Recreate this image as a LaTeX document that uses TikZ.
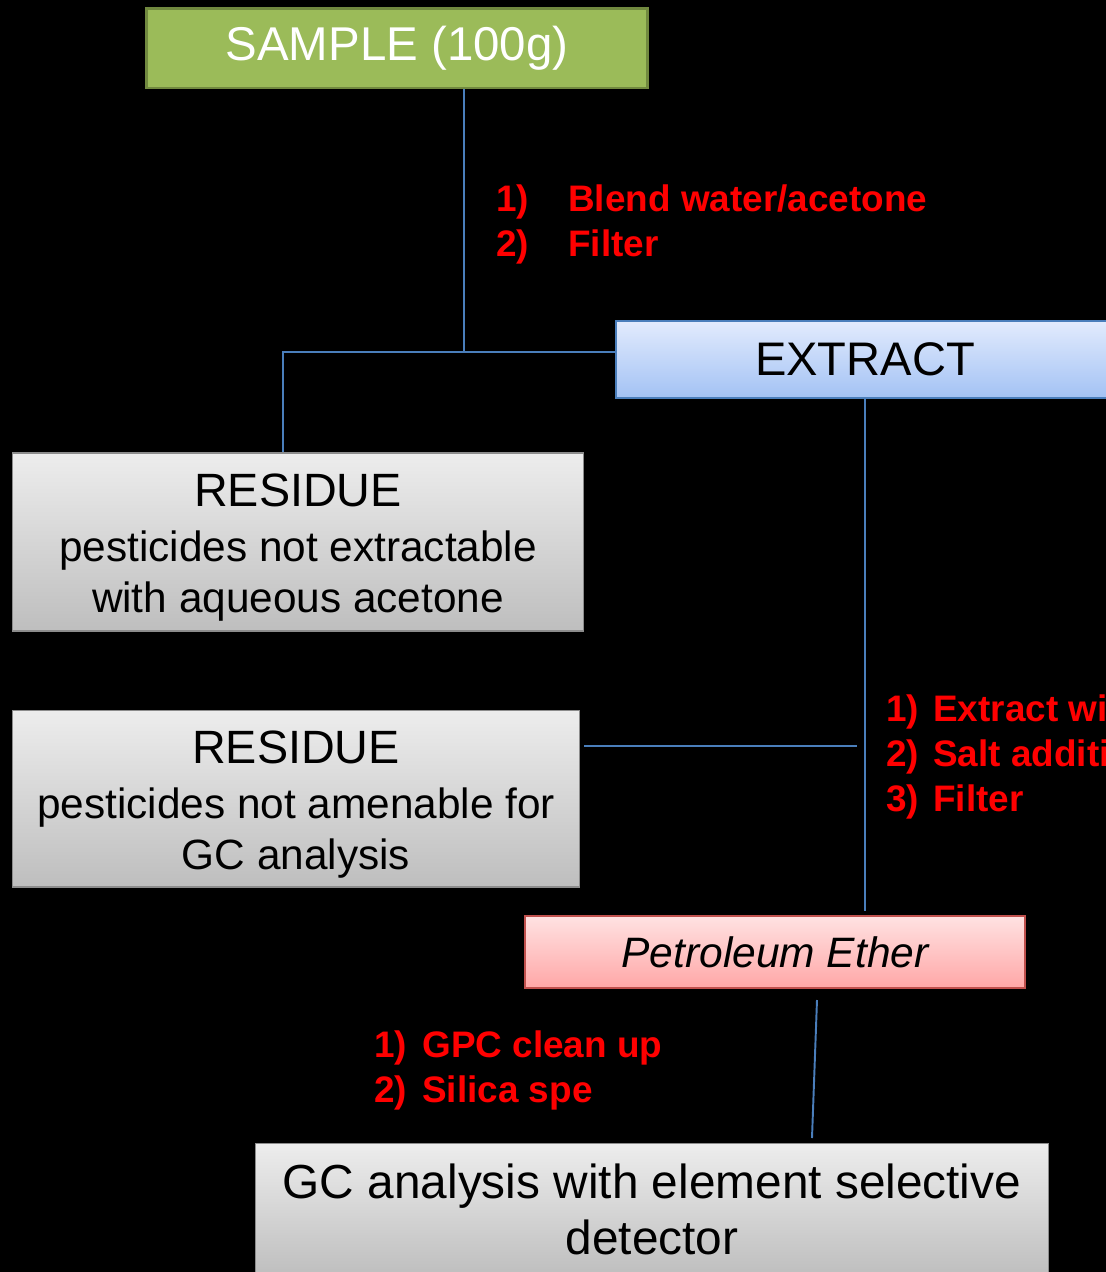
\documentclass[tikz,border=0pt]{standalone}
\usepackage{fontspec}
\setmainfont{Liberation Sans}
\begin{document}
\begin{tikzpicture}[x=0.02cm, y=-0.02cm,
  link/.style={draw=linkblue, line width=1.1pt},
  greenbox/.style={draw=greenedge, fill=greenfill, line width=1.7pt, text=white,
    font=\fontsize{27}{30}\selectfont},
  bluebox/.style={draw=linkblue, line width=1.3pt, top color=blueTop, bottom color=blueBot,
    font=\fontsize{26.8}{30}\selectfont},
  redbox/.style={draw=rededge, line width=1.3pt, top color=pinkTop, bottom color=pinkBot,
    font=\fontsize{24.2}{30}\selectfont\itshape},
  greybox/.style={draw=greyedge, line width=0.6pt, top color=greyTop, bottom color=greyBot,
    align=center, inner sep=0pt, font=\fontsize{24.1}{29}\selectfont},
  boxtext/.style={align=center, inner sep=0pt, font=\fontsize{24.1}{29}\selectfont},
  steptext/.style={anchor=base west, text=stepred, inner sep=0pt,
    font=\fontsize{21}{25}\selectfont\bfseries},
]
\definecolor{linkblue}{HTML}{4A7EBB}
\definecolor{greenedge}{HTML}{71893F}
\definecolor{greenfill}{HTML}{9BBB59}
\definecolor{blueTop}{HTML}{E2EBFD}
\definecolor{blueBot}{HTML}{A3C2F4}
\definecolor{rededge}{HTML}{C0504D}
\definecolor{pinkTop}{HTML}{FFE2E2}
\definecolor{pinkBot}{HTML}{FFA7A7}
\definecolor{greyedge}{HTML}{8C8C8C}
\definecolor{greyTop}{HTML}{EDEDED}
\definecolor{greyBot}{HTML}{BEBEBE}
\definecolor{stepred}{HTML}{FF0000}

\useasboundingbox (0,0) rectangle (1106,1272);
\fill[black] (0,0) rectangle (1106,1272);
\clip (0,0) rectangle (1106,1272);

% boxes
\node[greenbox, minimum width=10.04cm, minimum height=1.6cm] (sample) at (397,48) {SAMPLE (100g)};
\node[bluebox, minimum width=9.96cm, minimum height=1.54cm] (extract) at (865,359.5) {EXTRACT};
\node[greybox, minimum width=11.44cm, minimum height=3.56cm] (res1) at (298,542) {};
\node[boxtext] (res1t) at ([yshift=-0.11cm]res1.center)
  {{\fontsize{26.6}{31}\selectfont RESIDUE}\\[2pt]
   pesticides not extractable\\
   with aqueous acetone};
\node[greybox, minimum width=11.36cm, minimum height=3.54cm] (res2) at (296,798.5) {};
\node[boxtext] (res2t) at ([yshift=-0.12cm]res2.center)
  {{\fontsize{26.6}{31}\selectfont RESIDUE}\\[2pt]
   pesticides not amenable for\\
   GC analysis};
\node[redbox, minimum width=10cm, minimum height=1.44cm] (pet) at (775,952) {Petroleum Ether};
\node[greybox, minimum width=15.88cm, minimum height=2.66cm,
      font=\fontsize{27.2}{32}\selectfont] (gc) at (652,1209.5)
  {GC analysis with element selective\\ detector};

% connectors
\coordinate (j1) at (464,352);
\coordinate (j2) at (283,352);
\coordinate (j4) at (857,746);
\coordinate (p1) at (817,1000);
\coordinate (p2) at (812,1138);
\draw[link] (sample.south -| j1) -- (j1);
\draw[link] (extract.west |- j1) -- (j2) -- (j2 |- res1.north);
\draw[link] (extract.south) -- ([yshift=0.08cm]extract.south |- pet.north);
\draw[link] ([xshift=0.08cm]res2.east |- j4) -- (j4);
\draw[link] (p1) -- (p2);

% step labels
\node[steptext] (s1n) at (496,211) {1)};
\node[steptext] (s1t) at (568,211) {Blend water/acetone};
\node[steptext] (s2n) at (496,256) {2)};
\node[steptext] (s2t) at (568,256) {Filter};

\node[steptext] (e1n) at (886,721) {1)};
\node[steptext] (e1t) at (933,721) {Extract with};
\node[steptext] (e2n) at (886,766) {2)};
\node[steptext] (e2t) at (933,766) {Salt addition};
\node[steptext] (e3n) at (886,811) {3)};
\node[steptext] (e3t) at (933,811) {Filter};

\node[steptext] (g1n) at (374,1057) {1)};
\node[steptext] (g1t) at (422,1057) {GPC clean up};
\node[steptext] (g2n) at (374,1102) {2)};
\node[steptext] (g2t) at (422,1102) {Silica spe};
\end{tikzpicture}
\end{document}
